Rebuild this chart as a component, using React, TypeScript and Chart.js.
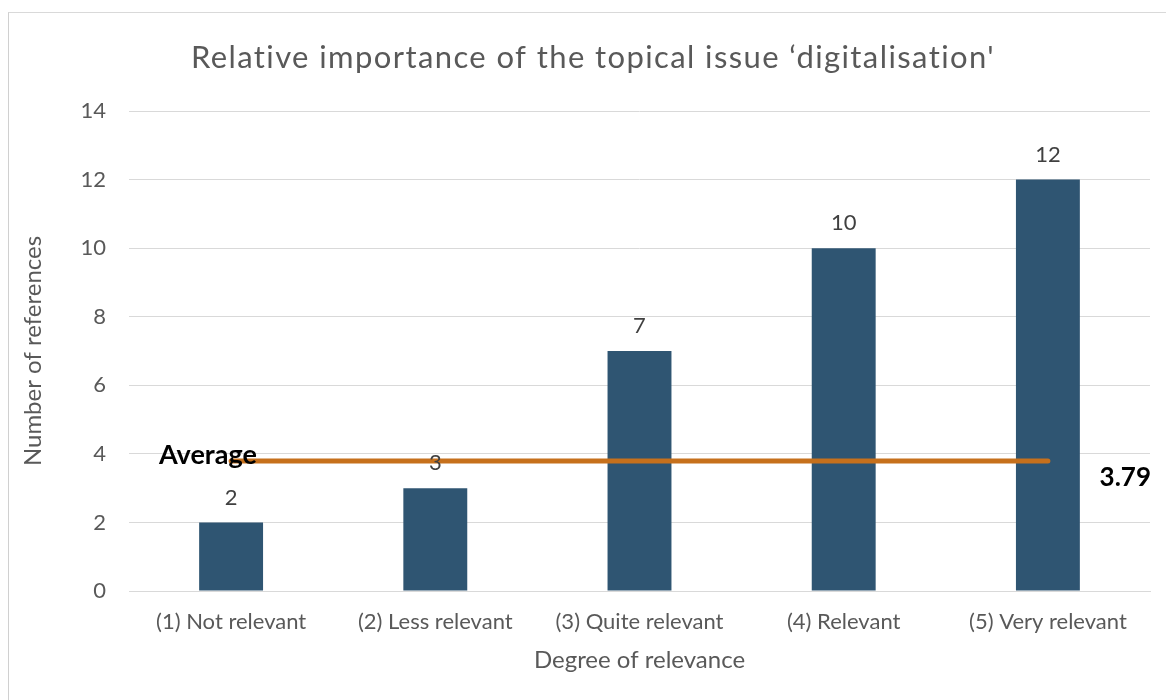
import React, { useEffect, useRef } from "react";
import { Chart, registerables } from "chart.js";

Chart.register(...registerables);

const chartTitle = "Relative importance of the topical issue \u2018digitalisation'";
const categories = ["(1) Not relevant", "(2) Less relevant", "(3) Quite relevant", "(4) Relevant", "(5) Very relevant"];
const counts = [2, 3, 7, 10, 12];
const averageSeries = [3.79, 3.79, 3.79, 3.79, 3.79];
const averageLabel = "Average";
const averageValueLabel = "3.79";
const yTickMin = 0;
const yTickMax = 14;
const yTickStep = 2;
const xAxisTitle = "Degree of relevance";
const yAxisTitle = "Number of references";

const FONT = "Lato, 'Open Sans', sans-serif";

const overlayPlugin = {
  id: "overlayText",
  afterDatasetsDraw(chart: any) {
    const ctx = chart.ctx;
    const yScale = chart.scales.y;
    const meta = chart.getDatasetMeta(0);
    ctx.save();
    ctx.font = `400 22px ${FONT}`;
    ctx.fillStyle = "#404040";
    ctx.textAlign = "center";
    ctx.textBaseline = "middle";
    meta.data.forEach((bar: any, i: number) => {
      ctx.fillText(String(counts[i]), bar.x, bar.y - 25);
    });
    ctx.font = `400 31px ${FONT}`;
    ctx.fillStyle = "#595959";
    (ctx as any).letterSpacing = "1.4px";
    ctx.fillText(chartTitle, 593, 58);
    (ctx as any).letterSpacing = "0px";
    const avgY = yScale.getPixelForValue(averageSeries[0]);
    ctx.font = `700 27px ${FONT}`;
    ctx.fillStyle = "#000000";
    ctx.textAlign = "left";
    ctx.textBaseline = "alphabetic";
    ctx.fillText(averageLabel, 159, avgY + 3);
    ctx.font = `700 26px ${FONT}`;
    ctx.textAlign = "right";
    ctx.fillText(averageValueLabel, 1151, avgY + 25);
    ctx.restore();
  },
};

export default function App() {
  const canvasRef = useRef<HTMLCanvasElement | null>(null);

  useEffect(() => {
    if (!canvasRef.current) return;
    const chart = new Chart(canvasRef.current, {
      type: "bar",
      data: {
        labels: categories,
        datasets: [
          {
            type: "bar",
            label: "Number of references",
            data: counts,
            backgroundColor: "#2F5572",
            categoryPercentage: 1,
            barPercentage: 0.313,
            order: 2,
          },
          {
            type: "line",
            label: "Average",
            data: averageSeries,
            borderColor: "#C6701C",
            borderWidth: 5,
            borderCapStyle: "round",
            pointRadius: 0,
            fill: false,
            order: 1,
          } as any,
        ],
      },
      options: {
        responsive: false,
        animation: false,
        devicePixelRatio: 1,
        layout: { padding: { left: 0, top: 111, right: 16, bottom: 0 } },
        plugins: {
          legend: { display: false },
          title: { display: false },
          tooltip: { enabled: false },
        },
        scales: {
          x: {
            grid: { display: false, drawTicks: false },
            border: { display: true, color: "#D9D9D9", width: 1 },
            ticks: {
              color: "#595959",
              font: { family: FONT, size: 22 },
              padding: 18,
              maxRotation: 0,
              autoSkip: false,
            },
            title: {
              display: true,
              text: xAxisTitle,
              color: "#595959",
              font: { family: FONT, size: 24 },
              padding: { top: 0, bottom: 25 },
            },
            afterFit: (s: any) => {
              s.height = 109;
            },
          },
          y: {
            min: yTickMin,
            max: yTickMax,
            grid: { color: "#D9D9D9", lineWidth: 1, drawTicks: false },
            border: { display: false },
            ticks: {
              stepSize: yTickStep,
              color: "#595959",
              font: { family: FONT, size: 22 },
              padding: 23,
            },
            title: {
              display: true,
              text: yAxisTitle,
              color: "#595959",
              font: { family: FONT, size: 24 },
              padding: { top: 19, bottom: 0 },
            },
            afterFit: (s: any) => {
              s.width = 129;
            },
          },
        },
      },
      plugins: [overlayPlugin],
    });
    return () => chart.destroy();
  }, []);

  return (
    <div>
      <div
        style={{
          position: "absolute",
          left: 8,
          top: 12,
          width: 1158,
          height: 688,
          borderLeft: "1px solid #D0D0D0",
          borderTop: "1px solid #D9D9D9",
          boxSizing: "border-box",
        }}
      />
      <canvas
        ref={canvasRef}
        width={1166}
        height={700}
        style={{ position: "absolute", left: 0, top: 0, width: 1166, height: 700 }}
      />
    </div>
  );
}
